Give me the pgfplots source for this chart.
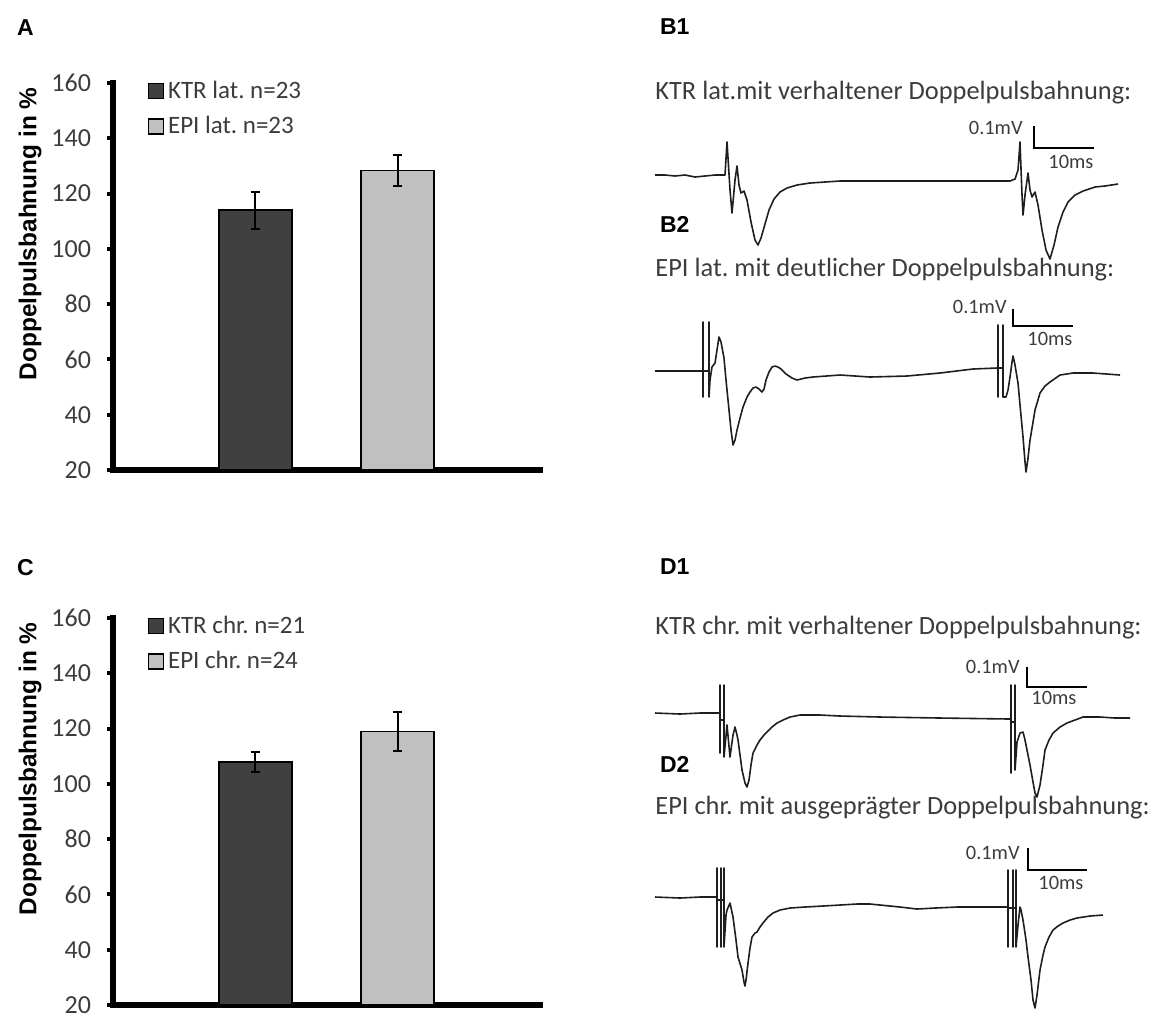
\documentclass[border=0pt]{standalone}
\usepackage{fontspec}
\setmainfont{Carlito}
\setsansfont{Liberation Sans}
\usepackage{pgfplots}
\pgfplotsset{compat=1.18}
\definecolor{ktr}{RGB}{64,64,64}
\definecolor{epi}{RGB}{192,192,192}
\definecolor{txt}{RGB}{60,60,60}
\definecolor{trace}{RGB}{30,30,30}

\pgfplotsset{
  barpanel/.style={
    scale only axis, width=213.5pt, height=193.5pt,
    xmin=0, xmax=3, ymin=20, ymax=160,
    axis x line*=bottom, axis y line*=left,
    axis line style={line width=3.2pt, black, line cap=rect},
    xtick=\empty, ytick={20,40,...,160},
    tick align=outside, major tick length=3pt,
    ytick style={line width=2pt, black},
    /pgf/number format/assume math mode=true,
    yticklabel style={font=\fontsize{13}{15}\selectfont, text=txt, xshift=-4.5pt},
    ylabel={Doppelpulsbahnung in \%},
    ylabel style={font=\sffamily\bfseries\fontsize{12.2}{14}\selectfont,
      at={(rel axis cs:-0.194,0.61)}, anchor=center},
    clip=false,
    legend cell align=left,
    legend style={anchor=north west, draw=none, fill=none,
      font=\fontsize{12.5}{15}\selectfont, text=txt, row sep=3.5pt},
    legend image code/.code={\draw[line width=0.7pt,##1] (0pt,-3.7pt) rectangle (7.4pt,3.7pt);},
  },
  bar/.style={ybar, bar width=36.5pt, bar shift=0pt, draw=black, line width=0.8pt,
    error bars/.cd, y dir=both, y explicit,
    error bar style={line width=1pt, black},
    error mark options={rotate=90, mark size=2.4pt, line width=1pt, black},
    /pgfplots/.cd},
  trc/.style={trace, line width=0.8pt, line join=round},
  sbar/.style={black, line width=1pt},
}

\begin{document}
\frenchspacing
\begin{tikzpicture}
\path[use as bounding box] (0pt,0pt) rectangle (574.5pt,-508.5pt);

% ---------- A ----------
\begin{axis}[barpanel, at={(56.5pt,-235pt)}, anchor=south west,
  legend style={at={(axis cs:0.2,163.8)}}]
\addplot[bar, fill=ktr] coordinates {(1,114) +- (0,6.7)};
\addlegendentry{KTR lat. n=23}
\addplot[bar, fill=epi] coordinates {(2,128.4) +- (0,5.7)};
\addlegendentry{EPI lat. n=23}
\end{axis}

% ---------- C ----------
\begin{axis}[barpanel, at={(56.5pt,-502.5pt)}, anchor=south west,
  legend style={at={(axis cs:0.2,163.8)}}]
\addplot[bar, fill=ktr] coordinates {(1,108) +- (0,3.7)};
\addlegendentry{KTR chr. n=21}
\addplot[bar, fill=epi] coordinates {(2,119) +- (0,7.1)};
\addlegendentry{EPI chr. n=24}
\end{axis}

% ---------- traces (pixel coordinates of the figure) ----------
\begin{axis}[at={(0pt,0pt)}, anchor=north west, scale only axis,
  width=574.5pt, height=508.5pt, xmin=0, xmax=1149, ymin=0, ymax=1017,
  y dir=reverse, hide axis, clip=false]

% B1
\addplot[trc] coordinates {
(655,175)(665,175)(675,176)(685,175)(695,177)(705,176)(715,175)(725,175)
(727,142)(730,190)(732,213)(735,180)(737,166)(739,185)(741,193)(744,191)
(747,200)(751,222)(755,240)(758,245)(761,238)(765,224)(769,210)(774,199)
(780,192)(787,188)(797,185)(810,183)(825,182)(840,181)(900,181)(960,181)
(1010,181)(1015,179)(1018,170)(1020,142)(1022,195)(1023,215)(1025,195)
(1028,173)(1030,190)(1032,197)(1035,192)(1038,205)(1042,230)(1046,250)
(1050,259)(1054,245)(1058,227)(1063,212)(1068,202)(1075,195)(1083,191)
(1095,187)(1105,186)(1118,184)};
\addplot[sbar] coordinates {(1034,126)(1034,148)(1094,148)};

% B2
\addplot[trc] coordinates {
(655,371)(703,371)(703,322)(703,397)(703,371)(709,371)(709,322)(709,397)(710,380)
(712,367)(715,363)(717,350)(719,337)(721,342)(724,358)(726,380)(728,400)
(731,430)(733,445)(735,440)(737,430)(740,418)(743,407)(747,397)(750,392)
(753,388)(756,387)(759,389)(762,392)(764,389)(766,380)(769,372)(772,367)
(775,366)(778,367)(781,369)(786,374)(792,378)(797,380)(805,378)(813,377)
(840,375)(870,377)(907,376)(940,373)(973,369)(997,368)(998,368)(998,325)
(998,397)(998,368)(1003,368)(1003,325)(1003,397)(1006,397)(1008,390)(1010,377)
(1012,362)(1013,356)(1015,365)(1018,383)(1020,405)(1023,437)(1025,462)
(1026,472)(1028,458)(1030,440)(1033,422)(1035,410)(1040,393)(1045,386)
(1050,382)(1060,375)(1073,373)(1093,373)(1120,375)};
\addplot[sbar] coordinates {(1013,309)(1013,326)(1073,326)};

% D1
\addplot[trc] coordinates {
(655,713)(680,714)(700,713)(720,713)(720,685)(720,753)(720,720)(724,720)(724,685)
(724,757)(727,725)(730,757)(733,735)(735,727)(737,735)(738,740)(740,755)
(742,770)(745,783)(747,787)(749,780)(751,765)(753,753)(757,745)(760,740)
(764,735)(767,732)(772,727)(777,723)(783,720)(790,717)(800,715)(807,715)
(820,715)(840,716)(880,717)(940,718)(1010,719)(1011,719)(1011,685)
(1011,773)(1011,722)(1015,722)(1015,685)(1015,770)(1017,742)(1020,733)(1023,732)
(1025,740)(1027,750)(1030,765)(1033,782)(1035,793)(1037,797)(1040,785)
(1043,765)(1045,750)(1049,740)(1053,733)(1060,727)(1067,723)(1075,720)
(1083,717)(1100,717)(1115,718)(1130,718)};
\addplot[sbar] coordinates {(1027,667)(1027,687)(1087,687)};

% D2
\addplot[trc] coordinates {
(655,897)(680,898)(700,897)(717,897)(717,868)(717,947)(717,900)(721,900)(721,868)
(721,947)(721,900)(724,900)(724,868)(724,947)(726,915)(727,910)(730,903)(733,917)
(736,940)(738,957)(742,970)(744,982)(745,986)(746,980)(748,963)(750,948)
(752,937)(755,933)(757,932)(760,927)(763,923)(768,917)(773,913)(780,910)
(790,908)(805,907)(823,906)(840,905)(857,904)(870,904)(880,905)(900,907)
(917,909)(935,908)(957,907)(980,907)(1007,907)(1008,907)(1008,870)
(1008,947)(1008,908)(1013,908)(1013,870)(1013,947)(1013,908)(1016,908)(1016,870)(1016,947)
(1018,925)(1020,907)(1021,910)(1023,920)(1026,940)(1028,957)(1031,980)
(1033,1000)(1035,1008)(1037,995)(1040,970)(1043,955)(1045,947)(1049,937)
(1053,930)(1058,926)(1063,923)(1070,920)(1077,918)(1090,916)(1103,915)};
\addplot[sbar] coordinates {(1028,848)(1028,870)(1087,870)};

% labels
\begin{scope}[font=\sffamily\bfseries\fontsize{11.5}{13}\selectfont]
\node[anchor=west] at (axis cs:10,28) {A};
\node[anchor=west] at (axis cs:10,568) {C};
\node[anchor=west] at (axis cs:653,27) {B1};
\node[anchor=west] at (axis cs:653,224) {B2};
\node[anchor=west] at (axis cs:653,567) {D1};
\node[anchor=west] at (axis cs:653,764) {D2};
\end{scope}
\begin{scope}[font=\fontsize{13.2}{15}\selectfont, text=txt, inner sep=0pt]
\node[anchor=west] at (axis cs:655,93) {KTR lat.mit verhaltener Doppelpulsbahnung:};
\node[anchor=west] at (axis cs:655,270) {EPI lat. mit deutlicher Doppelpulsbahnung:};
\node[anchor=west] at (axis cs:655,628) {KTR chr. mit verhaltener Doppelpulsbahnung:};
\node[anchor=west] at (axis cs:655,808) {EPI chr. mit ausgeprägter Doppelpulsbahnung:};
\end{scope}
\begin{scope}[font=\fontsize{10.2}{12}\selectfont, text=txt, inner sep=0pt]
\node[anchor=east] at (axis cs:1023,128) {0.1mV};
\node[anchor=west] at (axis cs:1048,162) {10ms};
\node[anchor=east] at (axis cs:1007,307) {0.1mV};
\node[anchor=west] at (axis cs:1027,339) {10ms};
\node[anchor=east] at (axis cs:1020,667) {0.1mV};
\node[anchor=west] at (axis cs:1031,698) {10ms};
\node[anchor=east] at (axis cs:1020,853) {0.1mV};
\node[anchor=west] at (axis cs:1038,883) {10ms};
\end{scope}
\end{axis}
\end{tikzpicture}
\end{document}
